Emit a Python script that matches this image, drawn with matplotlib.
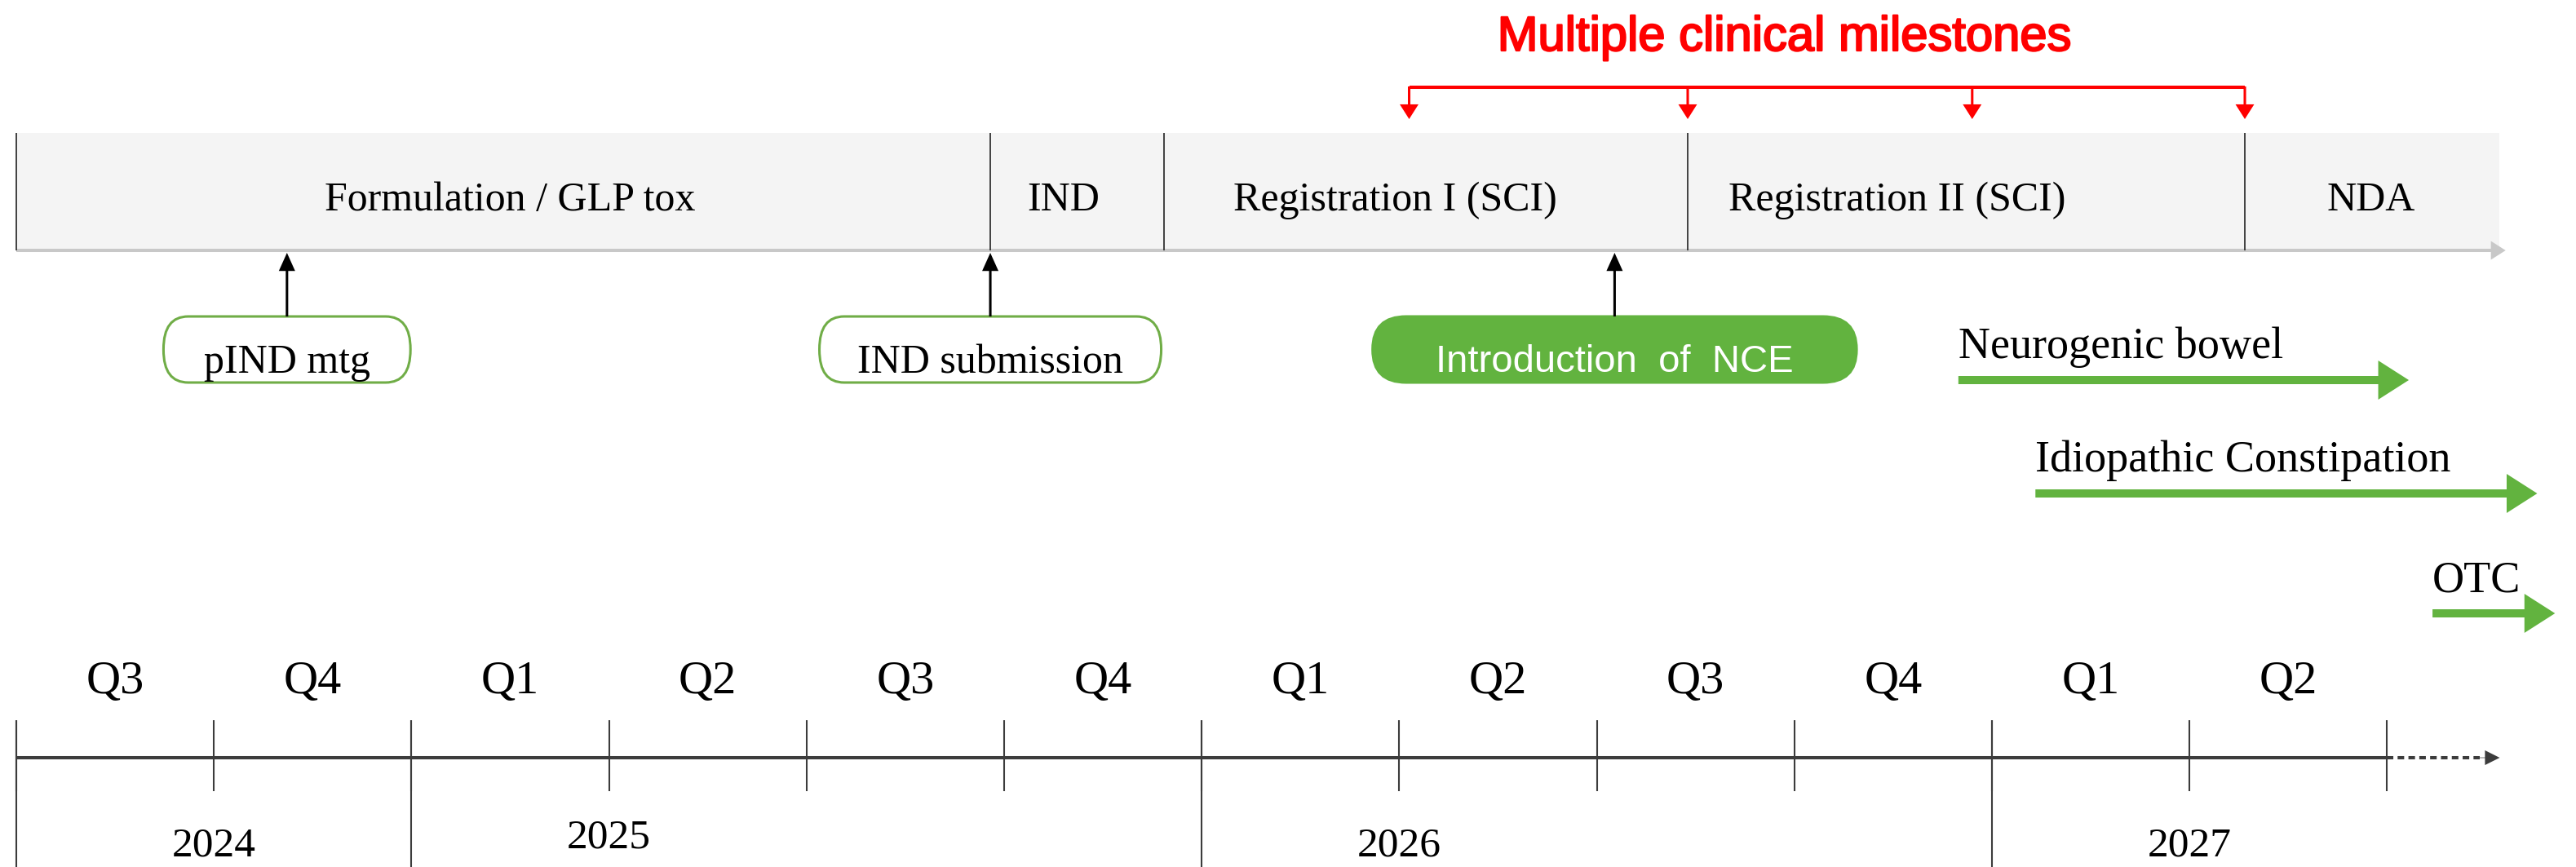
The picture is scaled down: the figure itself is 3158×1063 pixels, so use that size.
import matplotlib
matplotlib.use("Agg")
import matplotlib.pyplot as plt
import matplotlib.patheffects as pe
from matplotlib.patches import FancyArrowPatch, FancyBboxPatch

# ---------------- data (time measured in quarters from start of 2024 Q3) ----------------
quarter_labels = ["Q3", "Q4", "Q1", "Q2", "Q3", "Q4", "Q1", "Q2", "Q3", "Q4", "Q1", "Q2"]
year_labels = ["2024", "2025", "2026", "2027"]
year_label_pos = [1, 3, 7, 11]
year_starts = [0, 2, 6, 10]

phase_names = ["Formulation / GLP tox", "IND", "Registration I (SCI)",
               "Registration II (SCI)", "NDA"]
phase_start = [0.0, 4.93, 5.81, 8.46, 11.28]
phase_end = [4.93, 5.81, 8.46, 11.28, 12.57]
phase_label_pos = [2.50, 5.30, 6.98, 9.52, 11.92]

milestone_names = ["pIND mtg", "IND submission", "Introduction  of  NCE"]
milestone_pos = [1.37, 4.93, 8.09]
milestone_span = [1.25, 1.73, 2.45]
milestone_filled = [False, False, True]

clinical_title = "Multiple clinical milestones"
clinical_pos = [7.05, 8.46, 9.90, 11.28]

indication_names = ["Neurogenic bowel", "Idiopathic Constipation", "OTC"]
indication_start = [9.83, 10.22, 12.23]
indication_end = [12.11, 12.76, 12.85]

# ---------------- layout / style ----------------
W, H = 3158, 1063
Q_PX = 242.2          # pixels per quarter
X0_PX = 20            # pixel of time zero
SERIF = ["Liberation Serif", "DejaVu Serif"]
SANS = ["Liberation Sans", "DejaVu Sans"]
GREEN = "#62B33F"
GREEN_EDGE = "#70AD47"
DARK = "#3C3C3C"

fig = plt.figure(figsize=(W / 100, H / 100), dpi=100)
ax = fig.add_axes([0, 0, 1, 1])
ax.set_xlim(-X0_PX / Q_PX, (W - X0_PX) / Q_PX)
ax.set_ylim(H, 0)
ax.axis("off")


def arrow(x0, y0, x1, y1, color, tail, head_w, head_l, z=4):
    p = FancyArrowPatch((x0, y0), (x1, y1),
                        arrowstyle=f"simple,head_length={head_l},head_width={head_w},tail_width={tail}",
                        mutation_scale=1, color=color, lw=0, shrinkA=0, shrinkB=0, zorder=z)
    ax.add_patch(p)


# ---------------- phase band ----------------
BAR_TOP, BAR_BOT = 163, 307
for s, e in zip(phase_start, phase_end):
    ax.barh((BAR_TOP + BAR_BOT) / 2, e - s, left=s, height=BAR_BOT - BAR_TOP,
            color="#F4F4F4", edgecolor="none", zorder=1)
ax.vlines(phase_start, BAR_TOP, BAR_BOT, color="#333333", lw=1.3, zorder=3)
arrow(phase_start[0], BAR_BOT, phase_end[-1] + 0.03, BAR_BOT, "#C8C8C8", 2.9, 16.5, 13, z=2)
for name, xp in zip(phase_names, phase_label_pos):
    ax.text(xp, 258, name, ha="center", va="baseline", fontsize=36,
            family=SERIF, color="black", zorder=5)

# ---------------- red clinical milestones bracket ----------------
RED = "#FF0000"
ax.text(8.95, 62, clinical_title, ha="center", va="baseline", fontsize=43,
        family=SANS, color=RED,
        path_effects=[pe.withStroke(linewidth=1.6, foreground=RED)])
ax.hlines(107, min(clinical_pos), max(clinical_pos), color=RED, lw=2.9, zorder=4)
for xp in clinical_pos:
    arrow(xp, 106, xp, 146, RED, 2.2, 16.5, 13)

# ---------------- milestone boxes ----------------
BOX_TOP, BOX_BOT = 388, 469
for name, xp, span, filled in zip(milestone_names, milestone_pos, milestone_span, milestone_filled):
    rx = 0.17 if filled else 0.125
    box = FancyBboxPatch((xp - span / 2, BOX_TOP), span, BOX_BOT - BOX_TOP,
                         boxstyle=f"round,pad=0,rounding_size={rx}",
                         mutation_aspect=40.0 / rx,
                         facecolor=GREEN if filled else "white",
                         edgecolor=GREEN if filled else GREEN_EDGE,
                         lw=2.2, zorder=4)
    ax.add_patch(box)
    arrow(xp, BOX_TOP, xp, BAR_BOT + 3, "black", 2.2, 14.4, 16)
    if filled:
        ax.text(xp, 456, name, ha="center", va="baseline", fontsize=34,
                family=SANS, color="white", zorder=5)
    else:
        ax.text(xp, 457, name, ha="center", va="baseline", fontsize=36,
                family=SERIF, color="black", zorder=5)

# ---------------- indications (green arrows) ----------------
IND_Y = [466, 605, 752]
for name, s, e, yy in zip(indication_names, indication_start, indication_end, IND_Y):
    arrow(s, yy, e, yy, GREEN, 7.2, 34.5, 27)
    ax.text(s, yy - 27, name, ha="left", va="baseline", fontsize=39,
            family=SERIF, color="black")

# ---------------- time axis ----------------
AX_Y = 929
n_q = len(quarter_labels)
ax.hlines(AX_Y, 0, n_q, color=DARK, lw=2.9, zorder=3)
ax.plot([n_q, n_q + 0.47], [AX_Y, AX_Y], color=DARK, lw=2.9,
        ls=(0, (2.0, 1.3)), solid_capstyle="butt", zorder=3)
arrow(n_q + 0.44, AX_Y, n_q + 0.57, AX_Y, DARK, 0.5, 13, 13)
ax.vlines(range(n_q + 1), 883, 970, color=DARK, lw=1.5, zorder=3)
ax.vlines(year_starts, 883, H, color=DARK, lw=1.5, zorder=3)
for i, q in enumerate(quarter_labels):
    ax.text(i + 0.5, 850, q, ha="center", va="baseline", fontsize=42,
            family=SERIF, color="black")
year_base = [1050, 1040, 1050, 1050]
for y, xp, yb in zip(year_labels, year_label_pos, year_base):
    ax.text(xp, yb, y, ha="center", va="baseline", fontsize=37,
            family=SERIF, color="black")

fig.savefig("out.png", dpi=100, facecolor="white")
